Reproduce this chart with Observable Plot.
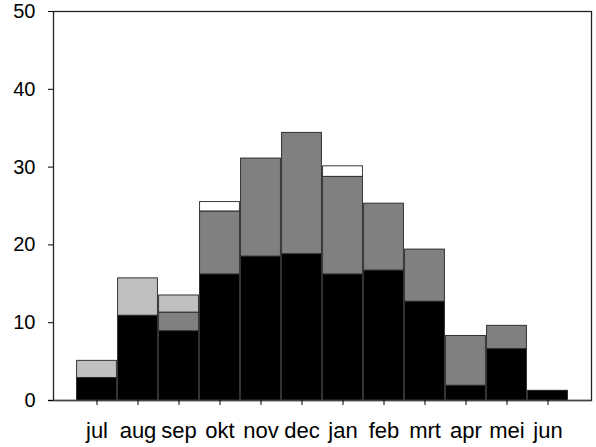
<!DOCTYPE html>
<html>
<head>
<meta charset="utf-8">
<script src="https://cdn.jsdelivr.net/npm/d3@7"></script>
<script src="https://cdn.jsdelivr.net/npm/@observablehq/plot@0.6"></script>
<style>
  html, body { margin: 0; padding: 0; background: #fff; }
  #chart svg { display: block; }
</style>
</head>
<body>
<div id="chart"></div>
<script>
const months = ["jul","aug","sep","okt","nov","dec","jan","feb","mrt","apr","mei","jun"];
const blackVals    = [2.9, 10.9, 8.9, 16.2, 18.5, 18.8, 16.2, 16.7, 12.7, 1.9, 6.6, 1.25];
const darkGrayVals = [0,   0,    2.4, 8.1,  12.6, 15.6, 12.55, 8.6, 6.7,  6.4, 3.0, 0];
const lightGrayVals= [2.2, 4.8,  2.2, 0,    0,    0,    0,    0,   0,    0,   0,   0];
const whiteVals    = [0,   0,    0,   1.2,  0,    0,    1.35, 0,   0,    0,   0,   0];
const layers = ["a","b","c","d"];
const layerColors = ["#000000", "#808080", "#c0c0c0", "#ffffff"];
const yTicks = [0, 10, 20, 30, 40, 50];

const series = [blackVals, darkGrayVals, lightGrayVals, whiteVals];
const rows = [];
series.forEach((vals, li) => {
  vals.forEach((v, i) => {
    if (v > 0) rows.push({month: months[i], layer: layers[li], value: v});
  });
});

const fontFam = "'Liberation Sans', Arial, sans-serif";
const chart = Plot.plot({
  width: 596,
  height: 447,
  marginLeft: 53,
  marginRight: 5,
  marginTop: 11,
  marginBottom: 47,
  style: {fontFamily: fontFam, color: "#000", background: "#fff"},
  x: {domain: months, paddingInner: 0, paddingOuter: 0.53, label: null},
  y: {domain: [0, 50], label: null},
  color: {domain: layers, range: layerColors},
  marks: [
    Plot.barY(rows, {x: "month", y: "value", fill: "layer", stroke: "#222", strokeWidth: 0.9, insetLeft: 0.6, insetRight: 0.6}),
    Plot.frame({stroke: "#222", strokeWidth: 1.3}),
    Plot.ruleY([0], {stroke: "#444", strokeWidth: 1.5, insetLeft: -5}),
    Plot.axisX({tickSize: 5, tickPadding: 17, fontSize: 22, label: null}),
    Plot.axisY({ticks: yTicks, tickSize: 5, tickPadding: 13, fontSize: 20, label: null})
  ]
});
document.getElementById("chart").appendChild(chart);
</script>
</body>
</html>
